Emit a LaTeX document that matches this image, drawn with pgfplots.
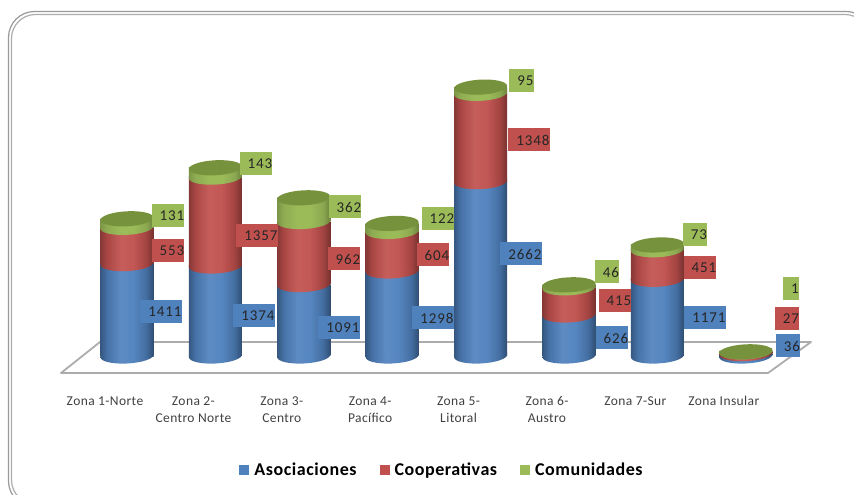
\documentclass[border=0pt]{standalone}
\usepackage{pgfplots}
\pgfplotsset{compat=1.18}
\usepackage{fontspec}
\setmainfont{Carlito}
\newfontfamily\labfont[LetterSpace=6]{Carlito}
\newfontfamily\tickfont[LetterSpace=3]{Carlito}
\newfontfamily\legfont[LetterSpace=3,BoldFont={Carlito Bold}]{Carlito}
\definecolor{cblue}{HTML}{4F81BD}
\definecolor{cred}{HTML}{C0504D}
\definecolor{cgreen}{HTML}{9BBB59}
\definecolor{ctop}{HTML}{76923C}
\pgfdeclarehorizontalshading{cylblue}{100bp}{color(0bp)=(cblue!60!black); color(25bp)=(cblue!68!black); color(31bp)=(cblue!88!black); color(44bp)=(cblue!92!white); color(56bp)=(cblue!96!white); color(68bp)=(cblue!85!black); color(75bp)=(cblue!60!black); color(100bp)=(cblue!60!black)}
\pgfdeclarehorizontalshading{cylred}{100bp}{color(0bp)=(cred!62!black); color(25bp)=(cred!70!black); color(31bp)=(cred!88!black); color(44bp)=(cred!92!white); color(56bp)=(cred!96!white); color(68bp)=(cred!85!black); color(75bp)=(cred!62!black); color(100bp)=(cred!62!black)}
\pgfdeclarehorizontalshading{cylgreen}{100bp}{color(0bp)=(cgreen!72!black); color(25bp)=(cgreen!80!black); color(31bp)=(cgreen!92!black); color(44bp)=(cgreen); color(56bp)=(cgreen); color(68bp)=(cgreen!90!black); color(75bp)=(cgreen!70!black); color(100bp)=(cgreen!70!black)}
\newcommand{\rx}{26.5pt}
\newcommand{\ry}{7.5pt}
\newcommand{\halfell}{\pgftransformrotate{3}\pgfpathmoveto{\pgfpoint{-26.5pt}{2.5pt}}\pgfpathlineto{\pgfpoint{-26.5pt}{0pt}}\pgfpatharc{180}{360}{26.5pt and 7.5pt}\pgfpathlineto{\pgfpoint{26.5pt}{2.5pt}}\pgfpathclose}
\pgfdeclareplotmark{capblue}{\halfell\pgfshadepath{cylblue}{0}\pgfusepath{discard}}
\pgfdeclareplotmark{capred}{\halfell\pgfshadepath{cylred}{0}\pgfusepath{discard}}
\pgfdeclareplotmark{capgreen}{\halfell\pgfshadepath{cylgreen}{0}\pgfusepath{discard}}
\pgfdeclareplotmark{captop}{\pgftransformrotate{3}\pgfsetfillcolor{ctop}\pgfpathellipse{\pgfpointorigin}{\pgfpoint{\rx}{0pt}}{\pgfpoint{0pt}{\ry}}\pgfusepath{fill}}
\newcommand{\lab}[4]{\node[fill=#3,inner sep=0pt,minimum height=23pt,text=black!85,font=\labfont\fontsize{15}{15}\selectfont,text depth=0pt] at (#1,495-#2) {\hspace{8pt}#4\hspace{8pt}};}
\pgfplotsset{
  cylaxis/.style={
    at={(0pt,0pt)}, anchor=south west,
    scale only axis, width=854pt, height=495pt,
    xmin=-1.4367, xmax=8.2240, ymin=-2122.1, ymax=5435.1,
    clip=false,
    ybar stacked, bar width=53pt,
    reverse stacked plots=false,
    stacked ignores zero=false,
  },
  base/.style={draw=none,fill=none,mark=capblue,forget plot},
  sblue/.style={draw=none,shade,shading=cylblue,mark=capred,forget plot},
  sred/.style={draw=none,shade,shading=cylred,mark=capgreen,forget plot},
  sgreen/.style={draw=none,shade,shading=cylgreen,mark=captop,forget plot},
}
\begin{document}
\begin{tikzpicture}
\path[use as bounding box] (0,0) rectangle (854pt,495pt);
\begin{scope}[x=1pt,y=1pt]
\clip (0,0) rectangle (854,495);
\draw[gray!80,line width=1.2pt,rounded corners=26] (8.5,-12) rectangle (872,483.5);
\draw[gray!65,line width=1.2pt,rounded corners=24] (11.5,-9) rectangle (869,480.5);
% floor
\draw[gray!65,line width=1.8pt,line join=round] (61,122) -- (768,122) -- (811,153) -- (100,153) -- cycle;
\end{scope}
\begin{axis}[
  cylaxis,
  axis y line=none, axis x line*=bottom,
  x axis line style={draw=none},
  major tick length=0pt,
  ytick=\empty,
  xtick={0,1,2,3,4,5,6,7},
  xticklabels={\strut Zona 1-Norte,{\strut Zona 2-\\Centro Norte},{\strut Zona 3-\\Centro},{\strut Zona 4-\\Pacífico},{\strut Zona 5-\\Litoral},{\strut Zona 6-\\Austro},\strut Zona 7-Sur,\strut Zona Insular},
  xticklabel style={align=center,anchor=north,xshift=-22pt,yshift=105pt,text=black!75,font=\tickfont\fontsize{13.5}{17}\selectfont},
  legend columns=3,
  legend cell align=left,
  legend style={at={(rel axis cs:0.5176,0.0505)},anchor=center,draw=none,fill=none,font=\legfont\bfseries\fontsize{18}{18}\selectfont,/tikz/every even column/.append style={column sep=21pt}},
]
\addlegendimage{legend image code/.code={\fill[cblue,draw=none] (0pt,-5pt) rectangle (10pt,5pt);\path[draw=none] (10pt,0pt) -- (13pt,0pt);}}
\addlegendimage{legend image code/.code={\fill[cred,draw=none] (0pt,-5pt) rectangle (10pt,5pt);\path[draw=none] (10pt,0pt) -- (13pt,0pt);}}
\addlegendimage{legend image code/.code={\fill[cgreen,draw=none] (0pt,-5pt) rectangle (10pt,5pt);\path[draw=none] (10pt,0pt) -- (13pt,0pt);}}
\addplot[base] coordinates {(0,0)};
\addplot[sblue] coordinates {(0,1411)};
\addplot[sred] coordinates {(0,553)};
\addplot[sgreen] coordinates {(0,131)};
\legend{Asociaciones,Cooperativas,Comunidades}
\end{axis}
\begin{axis}[cylaxis,hide axis]
\addplot[base] coordinates {(1,0)};
\addplot[sblue] coordinates {(1,1374)};
\addplot[sred] coordinates {(1,1357)};
\addplot[sgreen] coordinates {(1,143)};
\end{axis}
\begin{axis}[cylaxis,hide axis]
\addplot[base] coordinates {(2,0)};
\addplot[sblue] coordinates {(2,1091)};
\addplot[sred] coordinates {(2,962)};
\addplot[sgreen] coordinates {(2,362)};
\end{axis}
\begin{axis}[cylaxis,hide axis]
\addplot[base] coordinates {(3,0)};
\addplot[sblue] coordinates {(3,1298)};
\addplot[sred] coordinates {(3,604)};
\addplot[sgreen] coordinates {(3,122)};
\end{axis}
\begin{axis}[cylaxis,hide axis]
\addplot[base] coordinates {(4,0)};
\addplot[sblue] coordinates {(4,2662)};
\addplot[sred] coordinates {(4,1348)};
\addplot[sgreen] coordinates {(4,95)};
\end{axis}
\begin{axis}[cylaxis,hide axis]
\addplot[base] coordinates {(5,0)};
\addplot[sblue] coordinates {(5,626)};
\addplot[sred] coordinates {(5,415)};
\addplot[sgreen] coordinates {(5,46)};
\end{axis}
\begin{axis}[cylaxis,hide axis]
\addplot[base] coordinates {(6,0)};
\addplot[sblue] coordinates {(6,1171)};
\addplot[sred] coordinates {(6,451)};
\addplot[sgreen] coordinates {(6,73)};
\end{axis}
\begin{axis}[cylaxis,hide axis]
\addplot[base] coordinates {(7,0)};
\addplot[sblue] coordinates {(7,36)};
\addplot[sred] coordinates {(7,27)};
\addplot[sgreen] coordinates {(7,1)};
\end{axis}
\begin{scope}[x=1pt,y=1pt]
\lab{161}{312}{cblue}{1411}\lab{168}{251}{cred}{553}\lab{168}{216}{cgreen}{131}
\lab{254}{316}{cblue}{1374}\lab{257}{236}{cred}{1357}\lab{256}{164}{cgreen}{143}
\lab{339}{328}{cblue}{1091}\lab{344}{259}{cred}{962}\lab{345}{207}{cgreen}{362}
\lab{433}{318}{cblue}{1298}\lab{433}{255}{cred}{604}\lab{438}{219}{cgreen}{122}
\lab{521}{254}{cblue}{2662}\lab{529}{140}{cred}{1348}\lab{521.5}{81}{cgreen}{95}
\lab{612}{338}{cblue}{626}\lab{615}{301}{cred}{415}\lab{607}{272}{cgreen}{46}
\lab{705}{318}{cblue}{1171}\lab{700}{268}{cred}{451}\lab{695}{235}{cgreen}{73}
\lab{788}{346}{cblue}{36}\lab{787}{319}{cred}{27}\lab{791}{288.5}{cgreen}{1}
\end{scope}
\end{tikzpicture}
\end{document}
